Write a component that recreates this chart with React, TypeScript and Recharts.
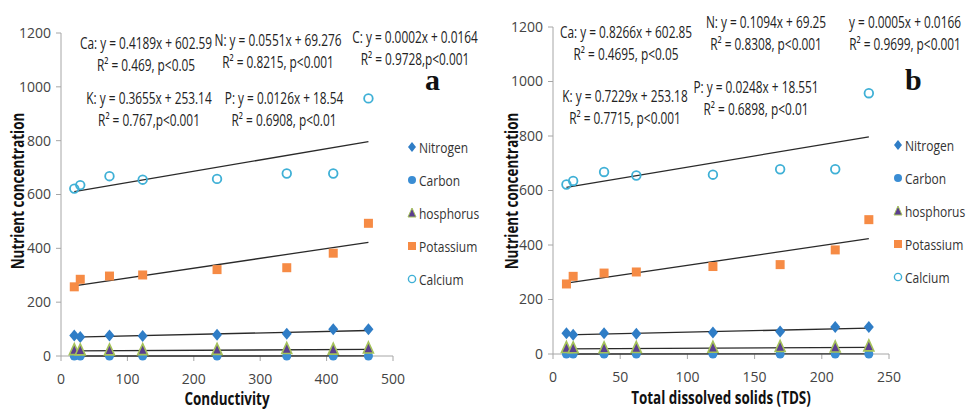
import React from 'react';
import { ScatterChart, Scatter, XAxis, YAxis } from 'recharts';

// sample positions on the two x axes
const conductivity = [20, 29, 73, 123, 235, 340, 410, 463];
const tds = [10, 15, 38, 62, 119, 169, 210, 235];

// measured nutrient values (same samples in both panels)
const nitrogen = [76, 71, 76, 74, 79, 83, 99, 99];
const carbon = [0.02, 0.02, 0.03, 0.04, 0.06, 0.08, 0.1, 0.11];
const phosphorus = [20, 19, 19, 20, 21, 24, 22, 26];
const potassium = [257, 285, 297, 301, 321, 328, 382, 493];
const calcium = [622, 635, 668, 655, 658, 678, 678, 957];

// regression coefficients printed on the chart: [slope, intercept]
const fitA = { Ca: [0.4189, 602.59], N: [0.0551, 69.276], C: [0.0002, 0.0164], K: [0.3655, 253.14], P: [0.0126, 18.54] };
const fitB = { Ca: [0.8266, 602.85], N: [0.1094, 69.25], C: [0.0005, 0.0166], K: [0.7229, 253.18], P: [0.0248, 18.551] };

const yTicks = [0, 200, 400, 600, 800, 1000, 1200];
const xTicksA = [0, 100, 200, 300, 400, 500];
const xTicksB = [0, 50, 100, 150, 200, 250];
const legendNames = ['Nitrogen', 'Carbon', 'hosphorus', 'Potassium', 'Calcium'];

const FONT = '"Open Sans", "Liberation Sans", sans-serif';
const COLORS: Record<string, string> = {
  Nitrogen: '#2f7dc6',
  Carbon: '#3a8dd4',
  hosphorus: '#5b3f8f',
  Potassium: '#f68b45',
  Calcium: '#3fb0d6',
};

const pts = (xs: number[], ys: number[]) => xs.map((x, i) => ({ x, y: ys[i] }));
const fitLine = (xs: number[], c: number[]) => {
  const a = Math.min(...xs);
  const b = Math.max(...xs);
  return [{ x: a, y: c[0] * a + c[1] }, { x: b, y: c[0] * b + c[1] }];
};

const Diamond = (p: any) => (
  <polygon points={`${p.cx},${p.cy - 6} ${p.cx + 5},${p.cy} ${p.cx},${p.cy + 6} ${p.cx - 5},${p.cy}`} fill={COLORS.Nitrogen} />
);
const Dot = (p: any) => <circle cx={p.cx} cy={p.cy} r={4.5} fill={COLORS.Carbon} />;
const Tri = (p: any) => (
  <polygon points={`${p.cx},${p.cy - 7} ${p.cx + 5},${p.cy + 4} ${p.cx - 5},${p.cy + 4}`} fill={COLORS.hosphorus} stroke="#a5c25a" strokeWidth={1.6} />
);
const Square = (p: any) => <rect x={p.cx - 4.5} y={p.cy - 4.5} width={9} height={9} fill={COLORS.Potassium} />;
const Ring = (p: any) => <circle cx={p.cx} cy={p.cy} r={4.3} fill="none" stroke={COLORS.Calcium} strokeWidth={1.8} />;
const NoShape = () => <g />;

const legendMarker = (name: string) => {
  switch (name) {
    case 'Nitrogen':
      return <polygon points="5,1 9,6 5,11 1,6" fill={COLORS.Nitrogen} />;
    case 'Carbon':
      return <circle cx={5} cy={6} r={4} fill={COLORS.Carbon} />;
    case 'hosphorus':
      return <polygon points="5,1 9,10 1,10" fill={COLORS.hosphorus} stroke="#a5c25a" strokeWidth={1} />;
    case 'Potassium':
      return <rect x={1} y={2} width={8} height={8} fill={COLORS.Potassium} />;
    default:
      return <circle cx={5} cy={6} r={3.6} fill="none" stroke={COLORS.Calcium} strokeWidth={1.4} />;
  }
};

// narrow text (the original uses a condensed face)
const narrow = (extra: string, s: number) => ({ transform: `${extra} scaleX(${s})`, whiteSpace: 'nowrap' as const });

const SideLegend = ({ left, top }: { left: number; top: number }) => (
  <div style={{ position: 'absolute', left, top, fontFamily: FONT, fontSize: 15, color: '#333' }}>
    {legendNames.map((name) => (
      <div key={name} style={{ display: 'flex', alignItems: 'center', height: 33 }}>
        <svg width={10} height={12} style={{ marginRight: 2 }}>
          {legendMarker(name)}
        </svg>
        <span style={{ ...narrow('', 0.8), transformOrigin: 'left center' }}>{name}</span>
      </div>
    ))}
  </div>
);

const Note = ({ x, y, l1, l2 }: { x: number; y: number; l1: string; l2: string }) => (
  <div
    style={{
      position: 'absolute',
      left: x,
      top: y,
      textAlign: 'center',
      fontFamily: FONT,
      fontSize: 16,
      lineHeight: '22px',
      color: '#222',
      ...narrow('translateX(-50%)', 0.74),
    }}
  >
    <div>{l1}</div>
    <div>{l2}</div>
  </div>
);

const Title = ({ x, y, text, rotate }: { x: number; y: number; text: string; rotate?: boolean }) => (
  <div
    style={{
      position: 'absolute',
      left: x,
      top: y,
      fontFamily: FONT,
      fontSize: 17,
      fontWeight: 'bold',
      lineHeight: '18px',
      color: '#111',
      ...narrow(`translate(-50%, -50%)${rotate ? ' rotate(-90deg)' : ''}`, 0.79),
    }}
  >
    {text}
  </div>
);

const tick = { fontFamily: FONT, fontSize: 14, fill: '#444' };
const axisLine = { stroke: '#a6a6a6' };

const Panel = ({ xs, fit, xTicks, xMax, margin, width }: any) => {
  const lineProps = { stroke: '#2a2a2a', strokeWidth: 1.3 };
  return (
    <ScatterChart width={width} height={409} margin={margin}>
      <XAxis
        type="number"
        dataKey="x"
        domain={[0, xMax]}
        ticks={xTicks}
        height={30}
        tick={tick}
        axisLine={axisLine}
        tickLine={axisLine}
        tickSize={5}
        tickMargin={13}
      />
      <YAxis
        type="number"
        dataKey="y"
        domain={[0, 1200]}
        ticks={yTicks}
        width={40}
        tick={tick}
        axisLine={axisLine}
        tickLine={axisLine}
        tickSize={5}
        tickMargin={5}
      />
      <Scatter name="Ca fit" data={fitLine(xs, fit.Ca)} shape={NoShape} line={lineProps} legendType="none" isAnimationActive={false} />
      <Scatter name="K fit" data={fitLine(xs, fit.K)} shape={NoShape} line={lineProps} legendType="none" isAnimationActive={false} />
      <Scatter name="N fit" data={fitLine(xs, fit.N)} shape={NoShape} line={lineProps} legendType="none" isAnimationActive={false} />
      <Scatter name="P fit" data={fitLine(xs, fit.P)} shape={NoShape} line={lineProps} legendType="none" isAnimationActive={false} />
      <Scatter name="C fit" data={fitLine(xs, fit.C)} shape={NoShape} line={lineProps} legendType="none" isAnimationActive={false} />
      <Scatter name="Nitrogen" data={pts(xs, nitrogen)} fill={COLORS.Nitrogen} shape={Diamond} isAnimationActive={false} />
      <Scatter name="Carbon" data={pts(xs, carbon)} fill={COLORS.Carbon} shape={Dot} isAnimationActive={false} />
      <Scatter name="hosphorus" data={pts(xs, phosphorus)} fill={COLORS.hosphorus} shape={Tri} isAnimationActive={false} />
      <Scatter name="Potassium" data={pts(xs, potassium)} fill={COLORS.Potassium} shape={Square} isAnimationActive={false} />
      <Scatter name="Calcium" data={pts(xs, calcium)} fill={COLORS.Calcium} shape={Ring} isAnimationActive={false} />
    </ScatterChart>
  );
};

const letter = (x: number, t: string) => (
  <div
    style={{
      position: 'absolute',
      left: x,
      top: 71,
      fontFamily: '"Liberation Serif", "DejaVu Serif", serif',
      fontWeight: 'bold',
      fontSize: 30,
      color: '#111',
      lineHeight: '18px',
    }}
  >
    {t}
  </div>
);

export default function App() {
  return (
    <div style={{ position: 'absolute', left: 0, top: 0, width: 966, height: 409, background: '#fff', overflow: 'hidden' }}>
      <div style={{ position: 'absolute', left: 0, top: 0 }}>
        <Panel xs={conductivity} fit={fitA} xTicks={xTicksA} xMax={500} width={480} margin={{ top: 33, right: 87, bottom: 23, left: 21 }} />
      </div>
      <div style={{ position: 'absolute', left: 480, top: 0 }}>
        <Panel xs={tds} fit={fitB} xTicks={xTicksB} xMax={250} width={486} margin={{ top: 27, right: 77, bottom: 25, left: 33 }} />
      </div>

      <Title x={18} y={191} text="Nutrient concentration" rotate />
      <Title x={227} y={399} text="Conductivity" />
      <Title x={512} y={191} text="Nutrient concentration" rotate />
      <Title x={721} y={398} text="Total dissolved solids (TDS)" />

      <SideLegend left={407} top={130} />
      <SideLegend left={893} top={128} />

      <Note x={146} y={32} l1="Ca: y = 0.4189x + 602.59" l2="R² = 0.469, p<0.05" />
      <Note x={278} y={29} l1="N: y = 0.0551x + 69.276" l2="R² = 0.8215, p<0.001" />
      <Note x={415} y={26} l1="C: y = 0.0002x + 0.0164" l2="R² = 0.9728,p<0.001" />
      <Note x={149} y={87} l1="K: y = 0.3655x + 253.14" l2="R² = 0.767,p<0.001" />
      <Note x={284} y={87} l1="P: y = 0.0126x + 18.54" l2="R² = 0.6908, p<0.01" />
      {letter(425, 'a')}

      <Note x={626} y={21} l1="Ca: y = 0.8266x + 602.85" l2="R² = 0.4695, p<0.05" />
      <Note x={766} y={11} l1="N: y = 0.1094x + 69.25" l2="R² = 0.8308, p<0.001" />
      <Note x={905} y={11} l1="y = 0.0005x + 0.0166" l2="R² = 0.9699, p<0.001" />
      <Note x={625} y={85} l1="K: y = 0.7229x + 253.18" l2="R² = 0.7715, p<0.001" />
      <Note x={756} y={76} l1="P: y = 0.0248x + 18.551" l2="R² = 0.6898, p<0.01" />
      {letter(905, 'b')}
    </div>
  );
}
